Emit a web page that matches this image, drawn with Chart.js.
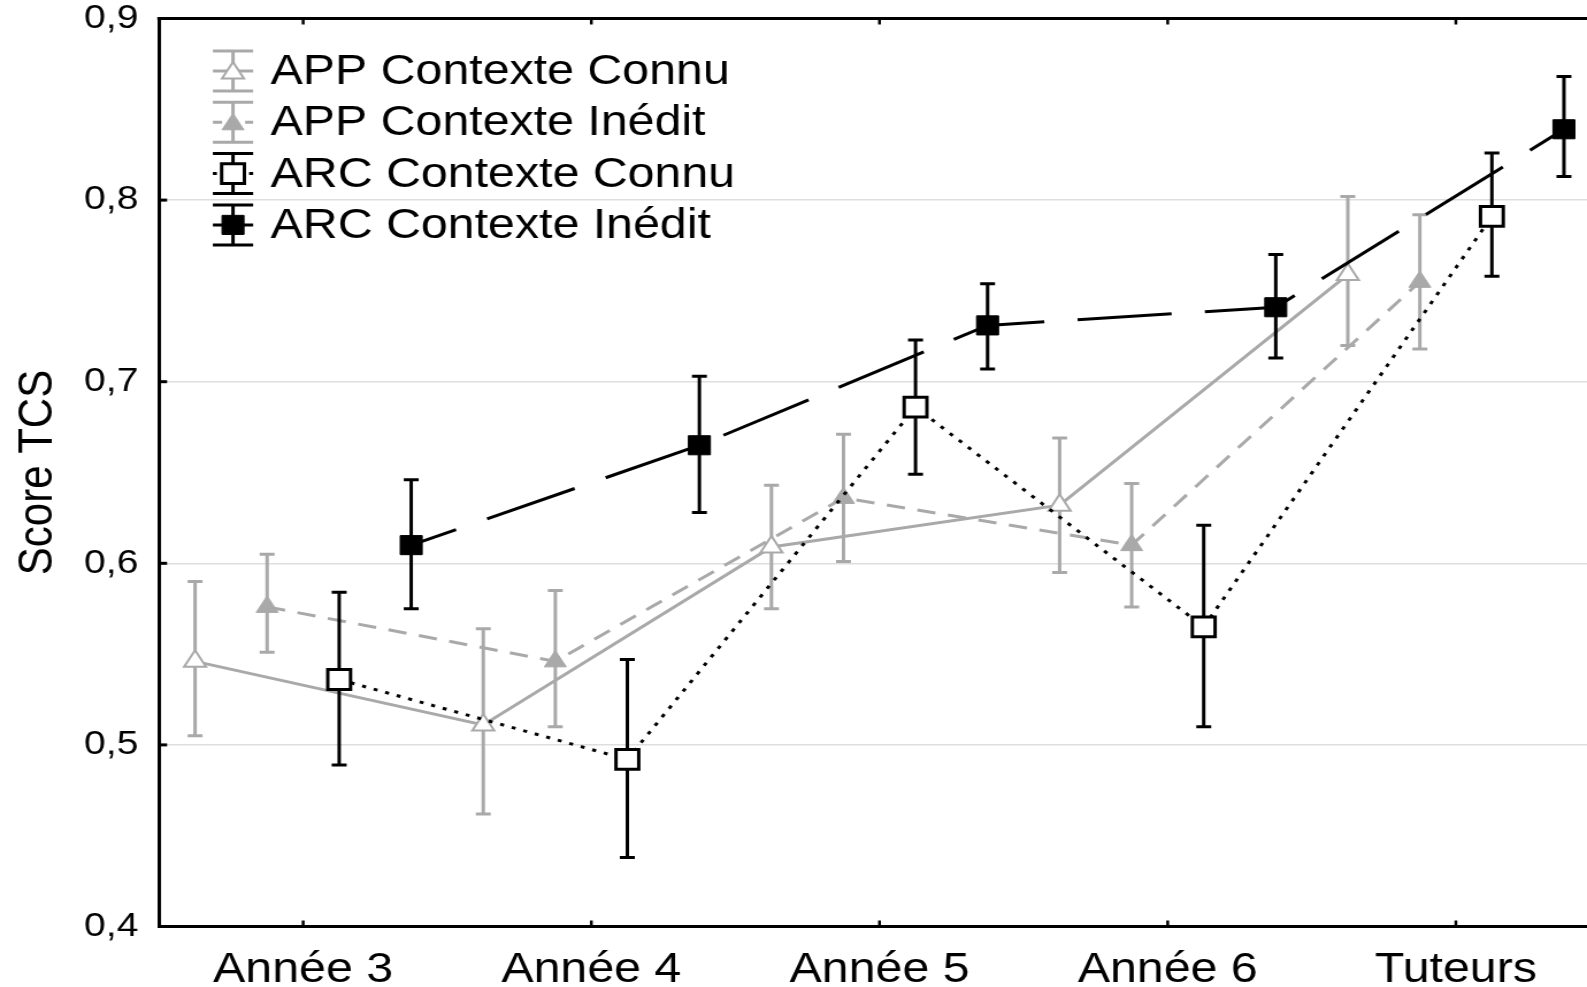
<!DOCTYPE html>
<html><head><meta charset="utf-8">
<script src="https://cdn.jsdelivr.net/npm/chart.js@4.4.1/dist/chart.umd.min.js"></script>
<style>
html,body{margin:0;padding:0;background:#fff;overflow:hidden}
#wrap{width:1380px;height:987px;transform:scaleX(1.15);transform-origin:0 0}
canvas{display:block}
</style></head>
<body><div id="wrap"><canvas id="c" width="1380" height="987"></canvas></div>
<script>
// ---- data ----
const categories = ['Année 3', 'Année 4', 'Année 5', 'Année 6', 'Tuteurs'];
const seriesNames = ['APP Contexte Connu', 'APP Contexte Inédit', 'ARC Contexte Connu', 'ARC Contexte Inédit'];
const yTicks = [0.4, 0.5, 0.6, 0.7, 0.8, 0.9];

const appConnuMean  = [0.546, 0.511, 0.609, 0.632, 0.759];
const appConnuHigh  = [0.590, 0.564, 0.643, 0.669, 0.802];
const appConnuLow   = [0.505, 0.462, 0.575, 0.595, 0.720];

const appIneditMean = [0.576, 0.546, 0.636, 0.610, 0.755];
const appIneditHigh = [0.605, 0.585, 0.671, 0.644, 0.792];
const appIneditLow  = [0.551, 0.510, 0.601, 0.576, 0.718];

const arcConnuMean  = [0.536, 0.492, 0.686, 0.565, 0.791];
const arcConnuHigh  = [0.584, 0.547, 0.723, 0.621, 0.826];
const arcConnuLow   = [0.489, 0.438, 0.649, 0.510, 0.758];

const arcIneditMean = [0.610, 0.665, 0.731, 0.741, 0.839];
const arcIneditHigh = [0.646, 0.703, 0.754, 0.770, 0.868];
const arcIneditLow  = [0.575, 0.628, 0.707, 0.713, 0.813];

// ---- styling ----
const FONT = "'Liberation Sans', Arial, Helvetica, sans-serif";
const GRAY = '#a9a9a9';
const groupOffsets = [-0.375, -0.125, 0.125, 0.375];

const styles = [
  {color: GRAY, dash: [], dashOffset: 0, point: 'triangle', r: 11, fill: '#fff', pbw: 2, order: 4},
  {color: GRAY, dash: [16, 11], dashOffset: 0, point: 'triangle', r: 11, fill: GRAY, pbw: 1, order: 3},
  {color: '#000', dash: [3.5, 7], dashOffset: 0, point: 'rect', r: 14, fill: '#fff', pbw: 3, order: 2},
  {color: '#000', dash: [82, 29], dashOffset: 40, point: 'rect', r: 13.5, fill: '#000', pbw: 1, order: 1}
];
const means = [appConnuMean, appIneditMean, arcConnuMean, arcIneditMean];
const highs = [appConnuHigh, appIneditHigh, arcConnuHigh, arcIneditHigh];
const lows  = [appConnuLow, appIneditLow, arcConnuLow, arcIneditLow];

const datasets = seriesNames.map((name, k) => {
  const st = styles[k];
  return {
    label: name,
    data: means[k].map((v, i) => ({x: i + groupOffsets[k], y: v})),
    errHigh: highs[k],
    errLow: lows[k],
    borderColor: st.color,
    borderWidth: 3,
    borderDash: st.dash,
    borderDashOffset: st.dashOffset,
    borderCapStyle: 'butt',
    tension: 0,
    fill: false,
    pointStyle: st.point,
    pointRadius: st.r,
    pointHoverRadius: st.r,
    pointBackgroundColor: st.fill,
    pointBorderColor: st.color,
    pointBorderWidth: st.pbw,
    order: st.order
  };
});

function drawMarker(ctx, style, x, y, r, fill, stroke, bw) {
  ctx.save();
  ctx.setLineDash([]);
  ctx.beginPath();
  if (style === 'triangle') {
    let rad = 0;
    ctx.moveTo(x + Math.sin(rad) * r, y - Math.cos(rad) * r);
    rad += 2 * Math.PI / 3;
    ctx.lineTo(x + Math.sin(rad) * r, y - Math.cos(rad) * r);
    rad += 2 * Math.PI / 3;
    ctx.lineTo(x + Math.sin(rad) * r, y - Math.cos(rad) * r);
    ctx.closePath();
  } else {
    const s = Math.SQRT1_2 * r;
    ctx.rect(x - s, y - s, 2 * s, 2 * s);
  }
  ctx.fillStyle = fill; ctx.fill();
  ctx.lineWidth = bw; ctx.strokeStyle = stroke; ctx.stroke();
  ctx.restore();
}

const decor = {
  id: 'decor',
  beforeDatasetDraw(chart, args) {
    const ds = chart.data.datasets[args.index];
    const ys = chart.scales.y;
    const ctx = chart.ctx;
    ctx.save();
    ctx.strokeStyle = ds.borderColor;
    ctx.lineWidth = 3;
    ctx.setLineDash([]);
    args.meta.data.forEach((pt, i) => {
      const x = pt.x;
      const yh = ys.getPixelForValue(ds.errHigh[i]);
      const yl = ys.getPixelForValue(ds.errLow[i]);
      ctx.beginPath();
      ctx.moveTo(x, yh); ctx.lineTo(x, yl);
      ctx.moveTo(x - 6.5, yh); ctx.lineTo(x + 6.5, yh);
      ctx.moveTo(x - 6.5, yl); ctx.lineTo(x + 6.5, yl);
      ctx.stroke();
    });
    ctx.restore();
  },
  afterDraw(chart) {
    const ctx = chart.ctx;
    const a = chart.chartArea;
    const xs = chart.scales.x, ys = chart.scales.y;
    ctx.save();
    ctx.strokeStyle = '#000';
    ctx.setLineDash([]);
    // top frame
    ctx.lineWidth = 3;
    ctx.beginPath(); ctx.moveTo(a.left - 1.5, a.top); ctx.lineTo(chart.width, a.top); ctx.stroke();
    // inner category ticks
    ctx.lineWidth = 2.5;
    categories.forEach((c, i) => {
      const x = xs.getPixelForValue(i);
      ctx.beginPath();
      ctx.moveTo(x, a.bottom); ctx.lineTo(x, a.bottom - 6);
      ctx.moveTo(x, a.top); ctx.lineTo(x, a.top + 6);
      ctx.stroke();
    });
    // inner y ticks
    ctx.lineWidth = 3;
    yTicks.forEach(v => {
      const y = ys.getPixelForValue(v);
      ctx.beginPath(); ctx.moveTo(a.left, y); ctx.lineTo(a.left + 7, y); ctx.stroke();
    });
    // legend
    const lx = a.left + 64.3, tx = a.left + 97;
    chart.data.datasets.forEach((ds, k) => {
      const st = styles[k];
      const cy = 71 + k * 51.3;
      ctx.strokeStyle = st.color;
      ctx.lineWidth = 3;
      ctx.setLineDash([]);
      ctx.beginPath();
      ctx.moveTo(lx, cy - 20); ctx.lineTo(lx, cy + 20);
      ctx.moveTo(lx - 17.5, cy - 20); ctx.lineTo(lx + 17.5, cy - 20);
      ctx.moveTo(lx - 17.5, cy + 20); ctx.lineTo(lx + 17.5, cy + 20);
      ctx.stroke();
      ctx.setLineDash(k === 3 ? [] : (k === 1 ? [8, 6] : st.dash));
      ctx.beginPath(); ctx.moveTo(lx - 17.5, cy); ctx.lineTo(lx + 17.5, cy); ctx.stroke();
      drawMarker(ctx, st.point, lx, st.point === 'triangle' ? cy + 2 : cy, st.r, st.fill, st.color, st.pbw);
      ctx.fillStyle = '#000';
      ctx.font = '42px ' + FONT;
      ctx.textBaseline = 'middle';
      ctx.textAlign = 'left';
      ctx.fillText(ds.label, tx, cy + 1.5);
    });
    ctx.restore();
  }
};

new Chart(document.getElementById('c'), {
  type: 'line',
  data: {datasets},
  plugins: [decor],
  options: {
    responsive: false,
    animation: false,
    devicePixelRatio: 1,
    layout: {autoPadding: false, padding: {top: 18.5, right: 0, bottom: 0, left: 0}},
    plugins: {legend: {display: false}, tooltip: {enabled: false}},
    scales: {
      x: {
        type: 'linear',
        min: -0.5,
        max: 4.455,
        afterBuildTicks: s => { s.ticks = categories.map((c, i) => ({value: i})); },
        afterFit: s => { s.height = 60.5; s.paddingLeft = 0; s.paddingRight = 0; },
        grid: {display: false, drawTicks: false},
        border: {display: true, color: '#000', width: 3},
        ticks: {
          autoSkip: false, maxRotation: 0, minRotation: 0,
          callback: v => categories[v],
          color: '#000', padding: 18.3,
          font: {family: FONT, size: 42}
        }
      },
      y: {
        type: 'linear',
        min: 0.4,
        max: 0.9,
        afterBuildTicks: s => { s.ticks = yTicks.map(v => ({value: v})); },
        afterFit: s => { s.width = 138.3; s.paddingTop = 0; s.paddingBottom = 0; },
        grid: {color: '#dedede', lineWidth: 1.5, drawTicks: false},
        border: {display: true, color: '#000', width: 3},
        ticks: {
          callback: v => v.toFixed(1).replace('.', ','),
          color: '#000', padding: 18,
          font: {family: FONT, size: 34, lineHeight: 1.1}
        },
        title: {
          display: true, text: 'Score TCS', color: '#000',
          font: {family: FONT, size: 42},
          padding: {top: 8, bottom: 0}
        }
      }
    }
  }
});
</script>
</body></html>
